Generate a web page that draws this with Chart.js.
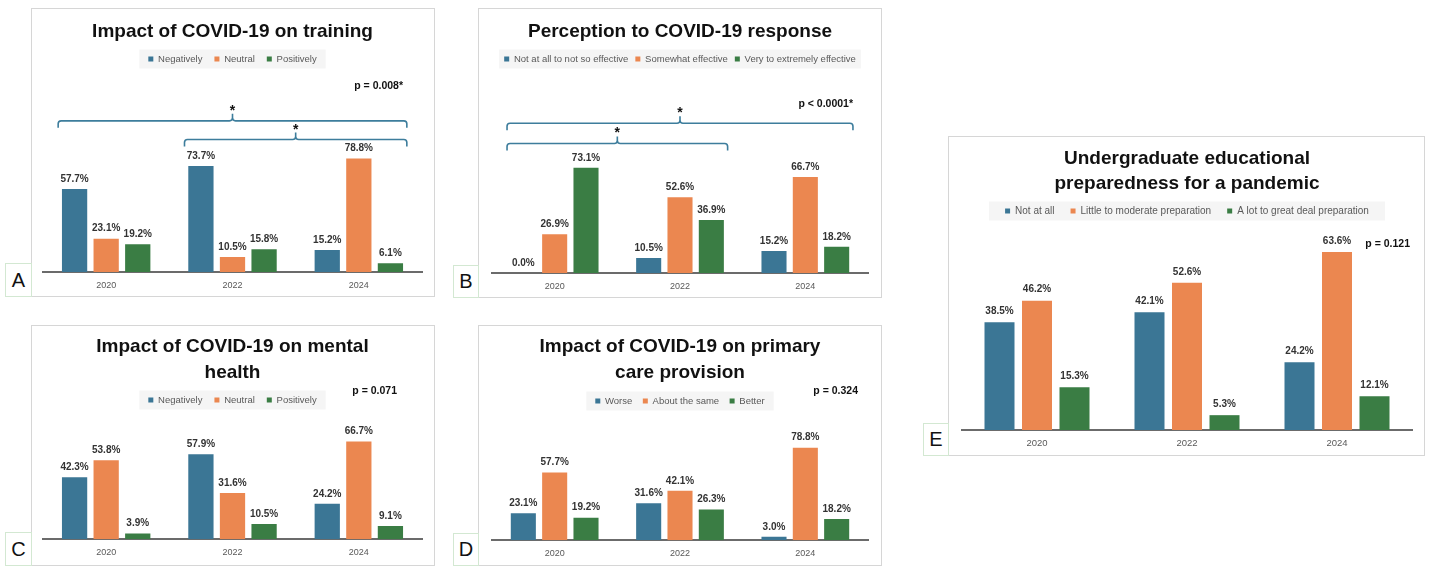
<!DOCTYPE html>
<html>
<head>
<meta charset="utf-8">
<script src="https://cdn.jsdelivr.net/npm/chart.js@4.4.1/dist/chart.umd.min.js"></script>
<style>
  body { margin: 0; background: #fff; width: 1431px; height: 566px; position: relative; overflow: hidden; }
  .panel { position: absolute; border: 1px solid #d6d6d6; box-sizing: border-box; }
  .panel canvas { position: absolute; left: -1px; top: -1px; }
  .tag { position: absolute; border: 1px solid #d3e8d2; box-sizing: border-box; background: #fff;
         font: 20px "Liberation Sans", Arial, sans-serif; color: #111; text-align: center; }
</style>
</head>
<body>

<div class="panel" style="left:31px;top:8px;width:404px;height:289px"><canvas id="chartA" width="404" height="289"></canvas></div>
<div class="panel" style="left:478px;top:8px;width:404px;height:290px"><canvas id="chartB" width="404" height="290"></canvas></div>
<div class="panel" style="left:31px;top:325px;width:404px;height:241px"><canvas id="chartC" width="404" height="241"></canvas></div>
<div class="panel" style="left:478px;top:325px;width:404px;height:241px"><canvas id="chartD" width="404" height="241"></canvas></div>
<div class="panel" style="left:948px;top:136px;width:477px;height:320px"><canvas id="chartE" width="477" height="320"></canvas></div>

<div class="tag" style="left:5px;top:263px;width:27px;height:34px;line-height:32px">A</div>
<div class="tag" style="left:453px;top:265px;width:26px;height:33px;line-height:31px">B</div>
<div class="tag" style="left:5px;top:532px;width:27px;height:34px;line-height:32px">C</div>
<div class="tag" style="left:453px;top:533px;width:26px;height:33px;line-height:31px">D</div>
<div class="tag" style="left:923px;top:423px;width:26px;height:33px;line-height:31px">E</div>

<script>
const years = ['2020', '2022', '2024'];

// A - training
const trainingNegatively = [57.7, 73.7, 15.2];
const trainingNeutral = [23.1, 10.5, 78.8];
const trainingPositively = [19.2, 15.8, 6.1];

// B - response
const responseNotEffective = [0.0, 10.5, 15.2];
const responseSomewhat = [26.9, 52.6, 66.7];
const responseVery = [73.1, 36.9, 18.2];

// C - mental health
const mentalNegatively = [42.3, 57.9, 24.2];
const mentalNeutral = [53.8, 31.6, 66.7];
const mentalPositively = [3.9, 10.5, 9.1];

// D - primary care
const careWorse = [23.1, 31.6, 3.0];
const careSame = [57.7, 42.1, 78.8];
const careBetter = [19.2, 26.3, 18.2];

// E - preparedness
const prepNotAtAll = [38.5, 42.1, 24.2];
const prepLittle = [46.2, 52.6, 63.6];
const prepALot = [15.3, 5.3, 12.1];

const COLORS = ['#3b7695', '#eb8750', '#3a7d44'];
const FONT = '"Liberation Sans", Arial, sans-serif';

// legend background, value labels, p-values and significance braces
const extras = {
    id: 'extras',
    beforeDraw(chart, args, opts) {
        const boxes = chart.legend.legendHitBoxes;
        if (!boxes || !boxes.length) return;
        const ctx = chart.ctx;
        const left = Math.min(...boxes.map(b => b.left)) - opts.bgPad;
        const right = Math.max(...boxes.map(b => b.left + b.width)) + opts.bgPad;
        const cy = boxes[0].top + boxes[0].height / 2;
        ctx.save();
        ctx.fillStyle = '#f5f5f5';
        ctx.fillRect(left, cy - 9.5, right - left, 19);
        ctx.restore();
    },
    afterDraw(chart, args, opts) {
        const ctx = chart.ctx;
        ctx.save();
        ctx.fillStyle = '#333';
        ctx.font = 'bold ' + opts.labelSize + 'px ' + FONT;
        ctx.textAlign = 'center';
        ctx.textBaseline = 'middle';
        chart.data.datasets.forEach((ds, i) => {
            chart.getDatasetMeta(i).data.forEach((bar, j) => {
                ctx.fillText(ds.data[j].toFixed(1) + '%', bar.x, bar.y - opts.labelGap);
            });
        });

        ctx.fillStyle = '#111';
        ctx.font = 'bold 10.5px ' + FONT;
        ctx.textAlign = 'right';
        ctx.fillText(opts.pText, opts.pX, opts.pY);

        const xs = chart.scales.x, ys = chart.scales.y;
        const cw = chart.chartArea.width / chart.data.labels.length;
        (opts.braces || []).forEach(b => {
            const x1 = xs.getPixelForValue(b.from) - cw * 0.38;
            const x2 = xs.getPixelForValue(b.to) + cw * 0.38;
            const y = ys.getPixelForValue(b.y);
            const mid = (x1 + x2) / 2, r = 3, h = 7;
            ctx.strokeStyle = '#3d7d9c';
            ctx.lineWidth = 1.6;
            ctx.beginPath();
            ctx.moveTo(x1, y + h);
            ctx.lineTo(x1, y + r);
            ctx.quadraticCurveTo(x1, y, x1 + r, y);
            ctx.lineTo(mid - r, y);
            ctx.quadraticCurveTo(mid, y, mid, y - r);
            ctx.lineTo(mid, y - h);
            ctx.moveTo(mid, y - r);
            ctx.quadraticCurveTo(mid, y, mid + r, y);
            ctx.lineTo(x2 - r, y);
            ctx.quadraticCurveTo(x2, y, x2, y + r);
            ctx.lineTo(x2, y + h);
            ctx.stroke();
            ctx.font = 'bold 14px ' + FONT;
            ctx.textAlign = 'center';
            ctx.textBaseline = 'alphabetic';
            ctx.fillText('*', mid, y - 6);
        });
        ctx.restore();
    }
};

function makeChart(id, c) {
    const ctx = document.getElementById(id).getContext('2d');
    return new Chart(ctx, {
        type: 'bar',
        data: {
            labels: years,
            datasets: c.names.map((name, i) => ({
                label: name,
                data: c.series[i],
                backgroundColor: COLORS[i],
                barPercentage: 0.8,
                categoryPercentage: 0.75,
            })),
        },
        options: {
            responsive: false,
            animation: false,
            layout: { padding: c.pad },
            plugins: {
                title: {
                    display: true,
                    text: c.title,
                    color: '#111',
                    font: { family: FONT, size: 19, weight: 'bold', lineHeight: c.titleLH },
                    padding: c.titlePad,
                },
                legend: {
                    labels: {
                        boxWidth: 5, boxHeight: 5,
                        padding: c.legendPad,
                        color: '#595959',
                        font: { family: FONT, size: c.legendSize },
                    },
                },
                tooltip: { enabled: false },
                extras: c.extras,
            },
            scales: {
                x: {
                    grid: { display: false, drawTicks: false },
                    border: { display: true, color: '#6b6b6b', width: 2 },
                    ticks: { color: '#595959', padding: c.tickPad, font: { family: FONT, size: c.tickSize } },
                    afterFit: scale => { scale.height = c.axisH; },
                },
                y: { display: false, min: 0, max: c.yMax },
            },
        },
        plugins: [extras],
    });
}

makeChart('chartA', {
    title: 'Impact of COVID-19 on training',
    names: ['Negatively', 'Neutral', 'Positively'],
    series: [trainingNegatively, trainingNeutral, trainingPositively],
    titleLH: 1.2, titlePad: { top: 12.1, bottom: -0.65 },
    legendPad: 12, legendSize: 9.5,
    pad: { left: 12, right: 13, top: 0, bottom: 0 },
    tickPad: 8, tickSize: 9, axisH: 25, yMax: 137.7,
    extras: { bgPad: 9, labelSize: 10, labelGap: 10, pText: 'p = 0.008*', pX: 372, pY: 78,
              braces: [{ from: 0, to: 2, y: 105 }, { from: 1, to: 2, y: 92 }] },
});

makeChart('chartB', {
    title: 'Perception to COVID-19 response',
    names: ['Not at all to not so effective', 'Somewhat effective', 'Very to extremely effective'],
    series: [responseNotEffective, responseSomewhat, responseVery],
    titleLH: 1.2, titlePad: { top: 12.1, bottom: 4.35 },
    legendPad: 7, legendSize: 9.5,
    pad: { left: 14, right: 14, top: 0, bottom: 0 },
    tickPad: 8, tickSize: 9, axisH: 25, yMax: 138.4,
    extras: { bgPad: 5, labelSize: 10, labelGap: 10, pText: 'p < 0.0001*', pX: 375, pY: 96,
              braces: [{ from: 0, to: 2, y: 104 }, { from: 0, to: 1, y: 90 }] },
});

makeChart('chartC', {
    title: ['Impact of COVID-19 on mental', 'health'],
    names: ['Negatively', 'Neutral', 'Positively'],
    series: [mentalNegatively, mentalNeutral, mentalPositively],
    titleLH: 26 / 19, titlePad: { top: 8.5, bottom: -2.25 },
    legendPad: 12, legendSize: 9.5,
    pad: { left: 12, right: 13, top: 0, bottom: 0 },
    tickPad: 8, tickSize: 9, axisH: 26.7, yMax: 84.9,
    extras: { bgPad: 9, labelSize: 10, labelGap: 10, pText: 'p = 0.071', pX: 366, pY: 66 },
});

makeChart('chartD', {
    title: ['Impact of COVID-19 on primary', 'care provision'],
    names: ['Worse', 'About the same', 'Better'],
    series: [careWorse, careSame, careBetter],
    titleLH: 26 / 19, titlePad: { top: 8.5, bottom: 0.25 },
    legendPad: 10.5, legendSize: 9.5,
    pad: { left: 14, right: 14, top: 0, bottom: 0 },
    tickPad: 7.6, tickSize: 9, axisH: 25.7, yMax: 106.0,
    extras: { bgPad: 9, labelSize: 10, labelGap: 10, pText: 'p = 0.324', pX: 380, pY: 66 },
});

makeChart('chartE', {
    title: ['Undergraduate educational', 'preparedness for a pandemic'],
    names: ['Not at all', 'Little to moderate preparation', 'A lot to great deal preparation'],
    series: [prepNotAtAll, prepLittle, prepALot],
    titleLH: 25 / 19, titlePad: { top: 10.5, bottom: -6.5 },
    legendPad: 16, legendSize: 10,
    pad: { left: 14, right: 13, top: 0, bottom: 0 },
    tickPad: 7.3, tickSize: 9.5, axisH: 26, yMax: 72.9,
    extras: { bgPad: 16, labelSize: 10, labelGap: 11, pText: 'p = 0.121', pX: 462, pY: 108 },
});
</script>
</body>
</html>
